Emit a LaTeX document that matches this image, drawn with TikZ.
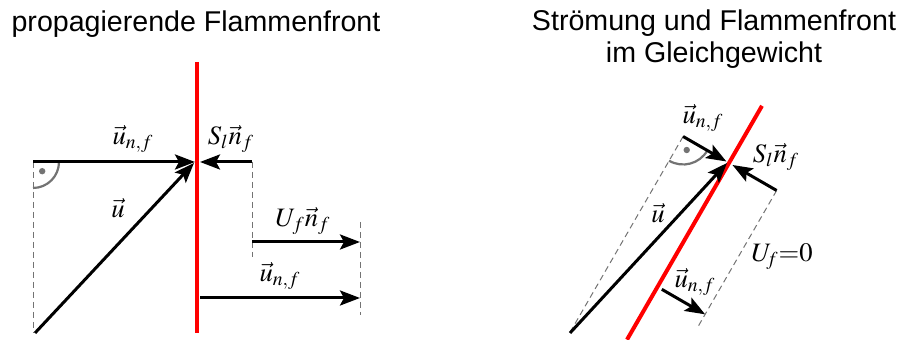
\documentclass[tikz,border=0pt]{standalone}
\usepackage{mathptmx}
\usepackage[no-math]{fontspec}
\setmainfont{Liberation Sans}
\usetikzlibrary{arrows.meta, calc}
\tikzset{
  vec/.style   = {-{Stealth[length=10pt, width=7.5pt, inset=2pt]}, line width=1.5pt, draw=black},
  front/.style = {line width=2pt, draw=red},
  aux/.style   = {line width=0.5pt, draw=black!55, dash pattern=on 3pt off 2pt},
  rang/.style  = {line width=1.1pt, draw=black!55},
  lbl/.style   = {inner sep=0pt, font=\fontsize{13.3}{15}\selectfont},
  ttl/.style   = {inner sep=0pt, align=center, font=\fontsize{14.3}{16}\selectfont}
}

\begin{document}
\begin{tikzpicture}[x=0.5pt, y=0.5pt]
  \useasboundingbox (0,0) rectangle (900,340);
  % titles
  \node[ttl] (t1) at (196,316) {propagierende Flammenfront};
  \node[ttl] (t2) at (714,301) {Str\"omung und Flammenfront\\im Gleichgewicht};

  % left: propagating flame front
  \coordinate (ft) at (197,278); \coordinate (fb) at (197,7);
  \coordinate (a)  at (33,178);  \coordinate (p)  at (195,178);
  \coordinate (b)  at (35,7);    \coordinate (pu) at (194,177);
  \coordinate (s1) at (252,178); \coordinate (s2) at (200,178);
  \coordinate (s3) at (252,83);
  \coordinate (w1) at (252,98);  \coordinate (w2) at (360,98);
  \coordinate (d1) at (360,118); \coordinate (d2) at (360,25);
  \coordinate (c1) at (200,42);  \coordinate (c2) at (360,42);
  \draw[aux] (a)--(a|-b); \draw[aux] (s1)--(s3); \draw[aux] (d1)--(d2);
  \draw[rang] ($(a)+(26,0)$) arc[start angle=0, end angle=-90, radius=13pt];
  \fill[black!55] ($(a)+(-45:13)$) circle (1.6pt);
  \draw[front] (ft)--(fb);
  \draw[vec] (a)--(p); \draw[vec] (b)--(pu);
  \draw[vec] (s1)--(s2); \draw[vec] (w1)--(w2); \draw[vec] (c1)--(c2);
  \node[lbl] (lunf) at (133,201) {$\vec{u}_{n,f}$};
  \node[lbl] (lsl)  at (231,201) {$S_l\vec{n}_f$};
  \node[lbl] (lu)   at (118,132) {$\vec{u}$};
  \node[lbl] (luf)  at (303,119) {$U_f\vec{n}_f$};
  \node[lbl] (lunb) at (280,64)  {$\vec{u}_{n,f}$};

  % right: flow and flame front in equilibrium
  \coordinate (P)  at (729,177);
  \coordinate (Ft) at ($(P)+(60:66)$);    \coordinate (Fb) at ($(P)+(240:204)$);
  \coordinate (Q)  at ($(P)+(150:53)$);   \coordinate (Pq) at ($(P)+(150:3)$);
  \coordinate (R)  at ($(P)+(-30:55)$);   \coordinate (Pr) at ($(P)+(-30:4)$);
  \coordinate (B)  at (570,7);            \coordinate (Pb) at ($(P)+(180:2)$);
  \coordinate (Qd) at ($(Q)+(240:226)$);  \coordinate (Rd) at ($(R)+(240:156)$);
  \coordinate (C1) at ($(P)+(240:143)+(-30:5)$);
  \coordinate (C2) at ($(C1)+(-30:50)$);
  \draw[aux] (Q)--(Qd); \draw[aux] (R)--(Rd);
  \draw[rang] ($(Q)+(-30:28)$) arc[start angle=-30, end angle=-120, radius=14pt];
  \fill[black!55] ($(Q)+(-75:14)$) circle (1.6pt);
  \draw[front] (Ft)--(Fb);
  \draw[vec] (B)--(Pb); \draw[vec] (Q)--(Pq);
  \draw[vec] (R)--(Pr); \draw[vec] (C1)--(C2);
  \node[lbl] (runf) at (703,222) {$\vec{u}_{n,f}$};
  \node[lbl] (rsl)  at (776,183) {$S_l\vec{n}_f$};
  \node[lbl] (ru)   at (658,127) {$\vec{u}$};
  \node[lbl] (ruf)  at (782,83)  {$U_{\!f}{=}0$};
  \node[lbl] (runb) at (695,58)  {$\vec{u}_{n,f}$};
\end{tikzpicture}
\end{document}
